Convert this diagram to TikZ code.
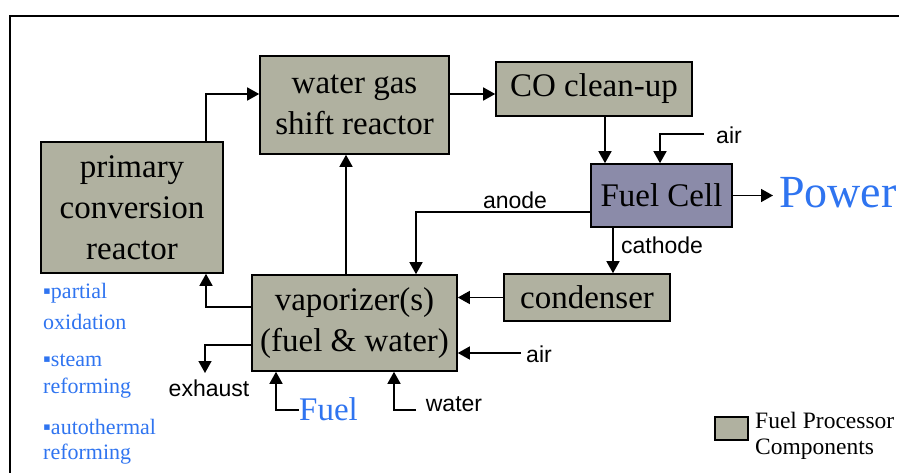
\documentclass[tikz,border=0pt]{standalone}
\usepackage{fontspec}
\usepackage{xcolor}
\setmainfont{Liberation Serif}
\newfontfamily\labelfont{Liberation Sans}
\definecolor{procgray}{HTML}{B0B1A0}
\definecolor{cellblue}{HTML}{8B8BA9}
\definecolor{textblue}{HTML}{2F74F0}
\usetikzlibrary{arrows.meta}

\begin{document}
\begin{tikzpicture}[
					x=1pt,y=-1pt,
					pbox/.style={rectangle,draw=black,line width=1.6pt,fill=procgray,inner sep=0pt,align=center,font=\fontsize{33}{41}\selectfont},
					flow/.style={draw=black,line width=1.5pt,-{Triangle[length=12pt,width=13pt]}},
					slabel/.style={inner sep=0pt,font=\labelfont\fontsize{23}{28}\selectfont},
					blabel/.style={inner sep=0pt,anchor=west,text=textblue,font=\fontsize{22}{28}\selectfont}
					]
					\useasboundingbox (0,0) rectangle (899,473);
					% frame
					\coordinate (fa) at (10,473);
					\coordinate (fb) at (10,16);
					\coordinate (fc) at (899,16);
					\draw[line width=2pt] (fa) -- (fb) -- (fc);
					% components
					\foreach \nm/\x/\y/\w/\h/\lab in {
						primary/132/207.5/182/131/{primary\\conversion\\reactor},
						shift/354.5/105/189/98/{water gas\\shift reactor},
						clean/594/89/196/54/{CO clean-up},
						condenser/587/297.5/166/47/{condenser},
						vapor/354.5/323/205/96/{vaporizer(s)\\(fuel \& water)}}{
						\node[pbox,minimum width=\w pt,minimum height=\h pt] (\nm) at (\x,\y) {\lab};
					}
					\node[pbox,fill=cellblue,minimum width=141pt,minimum height=63pt] (cell) at (661.5,195.5) {Fuel Cell};
					\node[pbox,minimum width=33pt,minimum height=23pt] (legend) at (731.5,428.5) {};
					% free labels
					\foreach \nm/\x/\y/\lab in {
						lair/729/135/air,
						lanode/515/200/anode,
						lcathode/662/245/cathode,
						lairb/539/354/air,
						lwater/454/404/water,
						lexhaust/209/388/exhaust}{
						\node[slabel] (\nm) at (\x,\y) {\lab};
					}
					\foreach \nm/\y/\lab in {
						ba/293/\symbol{"25AA}partial,
						bb/322/oxidation,
						bc/360/\symbol{"25AA}steam,
						bd/388/reforming,
						be/427/\symbol{"25AA}autothermal,
						bf/454/reforming}{
						\node[blabel] (\nm) at (43,\y) {\lab};
					}
					\node[inner sep=0pt,anchor=west,text=textblue,font=\fontsize{46}{50}\selectfont] (power) at (779,193) {Power};
					\node[inner sep=0pt,anchor=west,text=textblue,font=\fontsize{33}{40}\selectfont] (fuel) at (299,409) {Fuel};
					\node[inner sep=0pt,anchor=west,align=left,font=\fontsize{23.5}{26}\selectfont] (ltext) at (755,436) {Fuel Processor\\Components};
					% free ends
					\coordinate (airin) at (704,134);
					\coordinate (airbin) at (521,353);
					\coordinate (waterin) at (416,410);
					\coordinate (exout) at (205,373);
					% connectors
					\draw[flow] (primary.north -| 206,0) |- (shift.west |- 0,94);
					\draw[flow] (shift.east |- 0,94) -- (clean.west |- 0,94);
					\draw[flow] (clean.south -| 605,0) -- (cell.north -| 605,0);
					\draw[flow] (airin) -| (cell.north -| 660,0);
					\draw[flow,shorten >=6pt] (cell.east) -- (cell.east -| power.west);
					\draw[flow] (cell.west |- 0,212) -| (vapor.north -| 416,0);
					\draw[flow] (cell.south -| 613,0) -- (condenser.north -| 613,0);
					\draw[flow] (condenser.west) -- (vapor.east |- condenser.west);
					\draw[flow] (airbin) -- (vapor.east |- airbin);
					\draw[flow] (waterin) -| (vapor.south -| 394,0);
					\draw[flow] (fuel.west |- 0,410) -| (vapor.south -| 276,0);
					\draw[flow] (vapor.west |- 0,307) -| (primary.south -| 206,0);
					\draw[flow] (vapor.west |- 0,345) -| (exout);
					\draw[flow] (vapor.north -| 346,0) -- (shift.south -| 346,0);
				\end{tikzpicture}
\end{document}
